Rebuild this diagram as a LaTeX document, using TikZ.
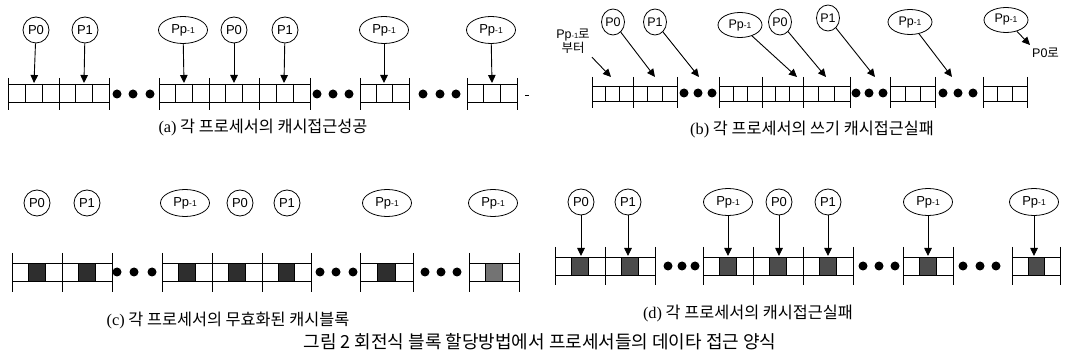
\documentclass[tikz,border=0pt]{standalone}
\usepackage{fontspec}
\setmainfont{Liberation Serif}
\newfontfamily\krfont{Noto Sans CJK KR}
\newfontfamily\lblfont{Liberation Sans}
\usetikzlibrary{arrows.meta,shapes.geometric}

\tikzset{
  proc/.style={draw, circle, line width=0.8pt, inner sep=0pt, minimum size=26pt,
    font=\lblfont\fontsize{13}{13}\selectfont},
  procwide/.style={draw, ellipse, line width=0.8pt, inner sep=0pt, minimum width=49pt,
    minimum height=27pt, font=\lblfont\fontsize{13}{13}\selectfont},
  procb/.style={draw, ellipse, line width=0.8pt, inner sep=0pt, minimum width=23pt,
    minimum height=26pt, font=\lblfont\fontsize{12.5}{12.5}\selectfont},
  procbwide/.style={procwide, minimum width=44pt, minimum height=25pt,
    font=\lblfont\fontsize{12.5}{12.5}\selectfont},
  acc/.style={-{Triangle[length=8pt,width=7.5pt]}, line width=0.9pt},
  rowline/.style={line width=0.9pt},
  cellline/.style={line width=0.7pt},
  captext/.style={font=\krfont\fontsize{16.3}{17}\selectfont, inner sep=0pt},
  note/.style={font=\krfont\fontsize{12.5}{13.5}\selectfont, inner sep=0pt, align=center},
}

% subscript-like "-1" of P_{p-1}
\newcommand\ppm{Pp{\fontsize{8.5}{8.5}\selectfont -1}}
% one cache block split into three cells
\newcommand\plainblk[4]{%
  \draw[rowline] (#1,#3) rectangle (#2,#4);
  \draw[cellline] ({#1+(#2-#1)/3},#3) -- ({#1+(#2-#1)/3},#4)
                  ({#1+2*(#2-#1)/3},#3) -- ({#1+2*(#2-#1)/3},#4);}
% one cache block with its middle cell shaded
\newcommand\shadeblk[5]{%
  \draw[rowline] (#1,#3) rectangle (#2,#4);
  \filldraw[fill=#5, line width=0.5pt] ({#1+(#2-#1)/3},#3) rectangle ({#1+2*(#2-#1)/3},#4);}
% block boundary tick
\newcommand\btick[3]{\draw[rowline] (#1,#2) -- (#1,#3);}
% three gap dots
\newcommand\gapdots[4]{\fill (#1,#4) circle (4.5) (#2,#4) circle (4.5) (#3,#4) circle (4.5);}

\begin{document}
\begin{tikzpicture}[x=1pt,y=-1pt]
\useasboundingbox (0,0) rectangle (1066,358);

% ---------------- (a) ----------------
\foreach \a/\b in {8/59,59/109,159/209,209/259,259/310,360/409,467/517}
  {\plainblk{\a}{\b}{84}{102}}
\foreach \x in {8,59,109,159,209,259,310,360,409,467,517} {\btick{\x}{78}{110}}
\gapdots{117}{133}{150}{94}
\gapdots{317}{333}{349}{94}
\gapdots{423}{440}{456}{94}
\draw[line width=0.8pt] (525,95) -- (529,95);

\node[proc]     (a1) at (36,30)  {P0};
\node[proc]     (a2) at (85,30)  {P1};
\node[procwide] (a3) at (183,30) {\ppm};
\node[proc]     (a4) at (234,30) {P0};
\node[proc]     (a5) at (285,30) {P1};
\node[procwide] (a6) at (384,30) {\ppm};
\node[procwide] (a7) at (491,30) {\ppm};
\foreach \n/\x in {a1/34,a2/84,a3/184,a4/234,a5/284,a6/384,a7/492}
  {\coordinate (t\n) at (\x,83); \draw[acc] (\n) -- (t\n);}

\node[captext] (capa) at (263,127) {{\rmfamily (a)} 각 프로세서의 캐시접근성공};

% ---------------- (b) ----------------
\foreach \a/\b in {592/633,633/677,719/762,762/803,803/850,890/935,983/1027}
  {\plainblk{\a}{\b}{86}{101}}
\foreach \x in {592,633,677,719,762,803,850,890,935,983,1027} {\btick{\x}{77}{108}}
\gapdots{684}{698}{712}{93}
\gapdots{856}{869}{883}{93}
\gapdots{943}{958}{973}{93}

\node[note] (from) at (573,41) {\lblfont Pp{\fontsize{7.5}{7.5}\selectfont -1}\krfont 로\\부터};
\node[procb]     (b1) at (613,22)  {P0};
\node[procb]     (b2) at (655,22)  {P1};
\node[procbwide] (b3) at (740,25)  {\ppm};
\node[procb]     (b4) at (780,22)  {P0};
\node[procb]     (b5) at (828,18)  {P1};
\node[procbwide] (b6) at (910,22)  {\ppm};
\node[procbwide] (b7) at (1006,20) {\ppm};
\node[note, anchor=west] (to) at (1032,53) {\lblfont P0\krfont 로};

\coordinate (tfrom) at (611,77);
\draw[acc] (from.south east) ++(2,4) -- (tfrom);
\foreach \n/\x in {b1/655,b2/699,b3/797,b4/826,b5/875,b6/952}
  {\coordinate (t\n) at (\x,77); \draw[acc] (\n) -- (t\n);}
\coordinate (tb7) at (1030,45);
\draw[acc] (b7) -- (tb7);

\node[captext] (capb) at (812,129) {{\rmfamily (b)} 각 프로세서의 쓰기 캐시접근실패};

% ---------------- (c) ----------------
\foreach \a/\b in {12/62,62/112,162/212,212/262,262/311,360/413}
  {\shadeblk{\a}{\b}{263}{281}{black!82}}
\shadeblk{469}{519}{263}{281}{black!55}
\foreach \x in {12,62,112,162,212,262,311,360,413,469,519} {\btick{\x}{253}{292}}
\gapdots{117}{134}{152}{272}
\gapdots{320}{336}{353}{272}
\gapdots{425}{441}{457}{272}

\node[proc]     (c1) at (37,203)  {P0};
\node[proc]     (c2) at (87,203)  {P1};
\node[procwide] (c3) at (185,203) {\ppm};
\node[proc]     (c4) at (240,203) {P0};
\node[proc]     (c5) at (287,203) {P1};
\node[procwide] (c6) at (387,203) {\ppm};
\node[procwide] (c7) at (493,203) {\ppm};

\node[captext] (capc) at (228,320) {{\rmfamily (c)} 각 프로세서의 무효화된 캐시블록};

% ---------------- (d) ----------------
\foreach \a/\b in {555/605,605/655,703/753,753/803,803/853,903/953,1012/1060}
  {\shadeblk{\a}{\b}{257}{275}{black!70}}
\foreach \x in {555,605,655,703,753,803,853,903,953,1012,1060} {\btick{\x}{247}{285}}
\gapdots{668}{682}{695}{266}
\gapdots{863}{879}{895}{266}
\gapdots{963}{980}{996}{266}

\node[proc]     (d1) at (581,202)  {P0};
\node[proc]     (d2) at (628,202)  {P1};
\node[procwide] (d3) at (728,202)  {\ppm};
\node[proc]     (d4) at (779,202)  {P0};
\node[proc]     (d5) at (828,202)  {P1};
\node[procwide] (d6) at (928,202)  {\ppm};
\node[procwide] (d7) at (1034,202) {\ppm};
\foreach \n/\x in {d1/581,d2/628,d3/728,d4/779,d5/828,d6/928,d7/1034}
  {\coordinate (t\n) at (\x,256); \draw[acc] (\n) -- (t\n);}

\node[captext] (capd) at (748,313) {{\rmfamily (d)} 각 프로세서의 캐시접근실패};

% ---------------- figure caption ----------------
\node[captext, font=\krfont\fontsize{18}{19}\selectfont] (fig) at (540,342)
  {그림 2 회전식 블록 할당방법에서 프로세서들의 데이타 접근 양식};
\end{tikzpicture}
\end{document}
